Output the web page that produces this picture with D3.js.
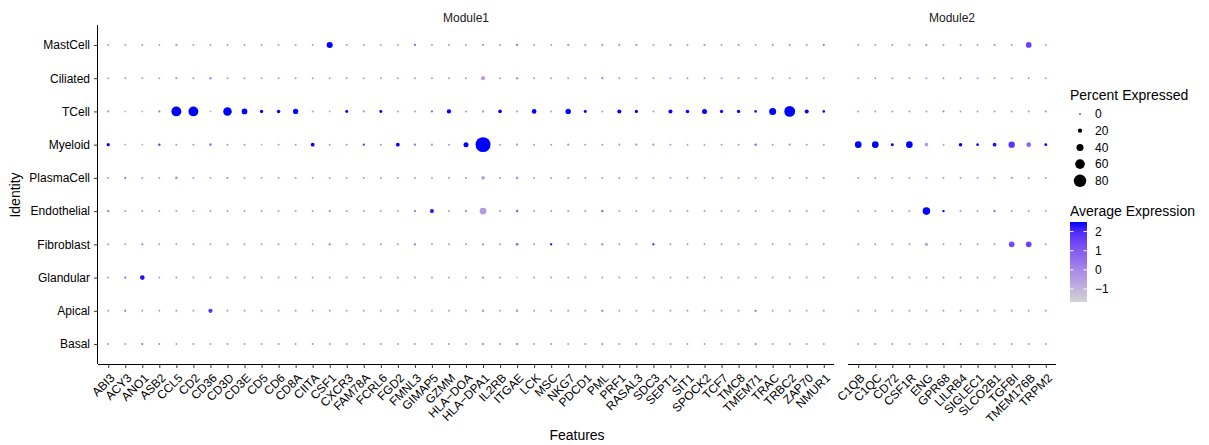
<!DOCTYPE html>
<html>
<head>
<meta charset="utf-8">
<script src="https://cdn.jsdelivr.net/npm/d3@7"></script>
<style>
  body { margin: 0; background: #fff; }
  text { font-family: "Liberation Sans", Arial, sans-serif; }
</style>
</head>
<body>
<svg width="1209" height="445"></svg>
<script>
// features, split by facet
const module1Genes = ["ABI3","ACY3","ANO1","ASB2","CCL5","CD2","CD36","CD3D","CD3E","CD5",
  "CD6","CD8A","CIITA","CSF1","CXCR3","FAM78A","FCRL6","FGD2","FMNL3","GIMAP5",
  "GZMM","HLA\u2212DOA","HLA\u2212DPA1","IL2RB","ITGAE","LCK","MSC","NKG7","PDCD1","PML",
  "PRF1","RASAL3","SDC3","SEPT1","SIT1","SPOCK2","TCF7","TMC8","TMEM71","TRAC",
  "TRBC2","ZAP70","NMUR1"];
const module2Genes = ["C1QB","C1QC","CD72","CSF1R","ENG","GPR68","LILRB4","SIGLEC1","SLCO2B1","TGFBI","TMEM176B","TRPM2"];

const identities = ["MastCell","Ciliated","TCell","Myeloid","PlasmaCell","Endothelial","Fibroblast","Glandular","Apical","Basal"];

// percent expressed, one value per gene (module1 then module2)
const pctMastCell = [3,3,3,3,5,3,3,3,3,3, 3,3,3,33,3,3,3,3,4,3, 3,3,5,3,5,3,3,5,3,4, 4,5,3,5,3,4,3,4,3,4, 4,3,4,
  3,3,3,3,5,3,3,3,5,3,30,3];
const pctCiliated = [3,3,3,3,5,3,6,3,3,3, 3,3,3,3,3,3,3,3,3,3, 3,3,20,3,7,3,3,3,3,4, 3,3,3,3,3,3,3,3,3,3, 3,3,3,
  3,3,3,3,3,3,3,3,3,3,3,3];
const pctTCell = [4,2,2,5,61,61,2,51,30,13, 14,27,3,2,10,4,10,3,3,5, 20,3,6,15,3,22,3,28,10,3, 18,12,3,18,14,25,12,13,8,40, 68,18,8,
  3,3,3,3,3,4,3,3,3,3,3,4];
const pctMyeloid = [12,2,2,6,3,3,9,3,3,2, 3,3,16,3,3,6,3,16,5,4, 3,25,98,3,5,3,3,5,3,3, 4,5,5,3,3,3,3,3,6,3, 5,3,3,
  37,37,10,37,15,3,14,8,16,35,22,9];
const pctPlasmaCell = [3,4,3,3,8,3,3,5,3,3, 3,3,3,3,3,3,3,3,3,3, 3,3,15,3,8,3,3,3,3,3, 3,3,3,3,3,3,3,3,3,3, 3,3,3,
  3,3,3,3,3,3,3,3,4,4,3,3];
const pctEndothelial = [5,3,3,3,3,3,3,3,3,3, 3,3,3,5,3,3,3,3,5,18, 3,5,38,3,7,3,3,3,3,6, 3,3,3,3,3,3,3,3,3,3, 3,3,3,
  3,3,3,3,44,6,3,3,6,3,3,3];
const pctFibroblast = [3,3,4,3,3,3,3,3,3,3, 3,3,3,5,3,3,3,3,5,3, 3,3,6,3,9,3,5,3,3,5, 3,3,5,3,3,3,3,3,3,3, 3,3,3,
  3,3,3,3,12,3,3,3,3,30,30,3];
const pctGlandular = [3,4,22,3,3,3,3,3,3,3, 3,3,3,3,3,3,3,3,3,3, 3,3,6,3,3,3,3,3,3,3, 3,3,3,3,3,3,3,3,3,3, 3,3,3,
  3,3,3,3,3,3,3,3,3,3,3,3];
const pctApical = [3,4,3,3,3,3,20,3,3,3, 3,3,3,3,3,3,3,3,3,3, 3,3,6,3,6,3,3,3,3,5, 3,3,3,3,3,3,3,3,4,3, 3,3,3,
  3,3,3,3,3,3,3,3,3,3,3,3];
const pctBasal = [3,3,4,3,3,3,3,3,3,3, 3,3,3,3,3,3,3,3,3,3, 3,3,6,4,5,3,3,3,3,4, 3,3,3,3,3,3,3,3,4,3, 3,3,3,
  3,3,3,3,3,3,3,3,3,3,3,3];

// average expression (scaled), same order
const avgMastCell = [-0.3,-0.4,-0.4,-0.4,-0.2,-0.3,-0.4,-0.3,-0.3,-0.3, -0.3,-0.3,-0.3,2.5,-0.3,-0.3,-0.4,-0.3,1.0,-0.3,
  -0.3,-0.4,-0.3,-0.3,0.5,-0.3,-0.4,-0.2,-0.3,-0.2, -0.2,-0.2,-0.4,-0.2,-0.3,-0.2,-0.3,-0.2,-0.4,-0.2, -0.2,-0.3,0.6,
  -0.3,-0.3,-0.2,-0.3,-0.2,-0.3,-0.3,-0.3,-0.2,-0.3,1.5,-0.3];
const avgCiliated = [-0.3,-0.4,-0.4,-0.4,-0.2,-0.3,-0.1,-0.3,-0.3,-0.3, -0.3,-0.3,-0.3,-0.3,-0.3,-0.3,-0.4,-0.3,-0.3,-0.3,
  -0.3,-0.4,-0.6,-0.3,-0.5,-0.3,-0.3,-0.3,-0.3,0.3, -0.3,-0.3,-0.3,-0.3,-0.3,-0.3,-0.3,-0.3,-0.3,-0.3, -0.3,-0.3,-0.3,
  -0.3,-0.3,-0.2,-0.3,-0.3,-0.3,-0.3,-0.3,-0.3,-0.3,-0.3,-0.3];
const avgTCell = [-0.1,-0.7,-0.7,0.3,2.5,2.5,-0.7,2.5,2.5,2.5, 2.5,2.5,-0.3,-0.5,2.5,-0.1,2.5,-0.4,-0.3,0.8,
  2.5,-0.2,-0.4,2.5,-0.3,2.5,-0.4,2.5,2.5,-0.3, 2.5,2.5,-0.3,2.5,2.5,2.5,2.5,2.5,2.4,2.5, 2.5,2.5,2.4,
  -0.3,-0.3,-0.3,-0.3,-0.3,-0.1,-0.3,-0.3,-0.3,-0.3,-0.3,-0.1];
const avgMyeloid = [2.5,-0.5,-0.5,1.8,-0.2,-0.2,0.2,-0.3,-0.3,-0.5, -0.3,-0.3,2.5,-0.3,-0.3,1.6,-0.3,2.5,0.6,-0.1,
  -0.3,2.5,2.5,-0.3,-0.2,-0.3,-0.3,-0.2,-0.3,-0.3, -0.2,-0.1,-0.1,-0.3,-0.3,-0.3,-0.3,-0.3,1.0,-0.3, -0.2,-0.3,-0.3,
  2.5,2.5,2.5,2.5,-0.4,-0.3,2.5,2.5,2.4,1.8,0.8,2.5];
const avgPlasmaCell = [-0.3,0.6,-0.3,-0.3,-0.2,-0.3,-0.3,-0.1,-0.3,-0.3, -0.3,-0.3,-0.3,-0.3,-0.3,-0.3,-0.3,-0.3,-0.3,-0.3,
  -0.3,-0.3,-0.5,-0.3,-0.4,-0.3,-0.3,-0.3,-0.3,-0.3, -0.3,-0.3,-0.3,-0.3,-0.3,-0.3,-0.3,-0.3,-0.3,-0.3, -0.3,-0.3,-0.3,
  -0.3,-0.3,-0.3,-0.3,-0.3,-0.3,-0.3,-0.3,-0.2,-0.2,-0.3,-0.3];
const avgEndothelial = [0.6,-0.3,-0.3,-0.3,-0.3,-0.3,-0.3,-0.3,-0.3,-0.3, -0.3,-0.3,-0.3,-0.1,-0.3,-0.3,-0.3,-0.3,0.6,2.3,
  -0.3,0.2,-0.4,-0.3,0.8,-0.3,-0.3,-0.3,-0.3,1.0, -0.3,-0.3,-0.3,-0.3,-0.3,-0.3,-0.3,-0.3,-0.3,-0.3, -0.3,-0.3,-0.3,
  -0.3,-0.3,-0.3,-0.3,2.5,2.5,-0.3,-0.3,0.5,-0.3,-0.3,-0.3];
const avgFibroblast = [-0.3,-0.3,0.5,-0.3,-0.3,-0.3,-0.3,-0.3,-0.3,-0.3, -0.3,-0.3,-0.3,0.5,-0.3,-0.3,-0.3,-0.3,0.6,-0.3,
  -0.3,-0.3,-0.3,-0.3,0.5,-0.3,2.5,-0.3,-0.3,0.5, -0.3,-0.3,2.3,-0.3,-0.3,-0.3,-0.3,-0.3,-0.3,-0.3, -0.3,-0.3,-0.3,
  -0.3,-0.3,-0.3,-0.3,-0.5,-0.3,-0.3,-0.3,-0.3,1.4,1.5,-0.3];
const avgGlandular = [-0.3,0.8,2.4,-0.3,-0.3,-0.3,-0.3,-0.3,-0.3,-0.3, -0.3,-0.3,-0.3,-0.3,-0.3,-0.3,-0.3,-0.3,-0.3,-0.3,
  -0.3,-0.3,-0.3,-0.3,-1.6,-0.3,-0.3,-0.3,-0.3,-0.3, -0.3,-0.3,-0.3,-0.3,-0.3,-0.3,-0.3,-0.3,-0.3,-0.3, -0.3,-0.3,-0.3,
  -0.3,-0.3,-0.3,-0.3,-0.3,-0.3,-0.3,-0.3,-0.3,-0.3,-0.3,-0.3];
const avgApical = [-0.3,0.5,-0.3,-0.3,-0.3,-0.3,1.8,-0.3,-0.3,-0.3, -0.3,-0.3,-0.3,-0.3,-0.3,-0.3,-0.3,-0.3,-0.3,-0.3,
  -0.3,-0.3,-0.3,-0.3,-0.2,-0.3,-0.3,-0.3,-0.3,0.5, -0.3,-0.3,-0.3,-0.3,-0.3,-0.3,-0.3,-0.3,0.6,-0.3, -0.3,-0.3,-0.3,
  -0.3,-0.3,-0.3,-0.3,-0.3,-0.3,-0.3,-0.3,-0.3,-0.3,-0.3,-0.3];
const avgBasal = [-0.3,-0.3,0.6,-0.3,-0.3,-0.3,-0.3,-0.3,-0.3,-0.3, -0.3,-0.3,-0.3,-0.3,-0.3,-0.3,-0.3,-0.3,-0.3,-0.3,
  -0.3,-0.3,-0.3,-0.2,0.4,-0.3,-0.3,-0.3,-0.3,0.2, -0.3,-0.3,-0.3,-0.3,-0.3,-0.3,-0.3,-0.3,0.2,-0.3, -0.3,-0.3,-0.3,
  -0.3,-0.3,-0.3,-0.3,-0.3,-0.3,-0.3,-0.3,-0.3,-0.3,-0.3,-0.3];

const sizeBreaks = [0, 20, 40, 60, 80];
const colorBreaks = [2, 1, 0, -1];

const pctRows = [pctMastCell, pctCiliated, pctTCell, pctMyeloid, pctPlasmaCell, pctEndothelial, pctFibroblast, pctGlandular, pctApical, pctBasal];
const avgRows = [avgMastCell, avgCiliated, avgTCell, avgMyeloid, avgPlasmaCell, avgEndothelial, avgFibroblast, avgGlandular, avgApical, avgBasal];

const svg = d3.select("svg");
svg.append("rect").attr("width", 1209).attr("height", 445).attr("fill", "#fff");

const plotTop = 25, plotBottom = 364;
const panels = [
  {name: "Module1", genes: module1Genes, x0: 98, x1: 834, offset: 0},
  {name: "Module2", genes: module2Genes, x0: 848, x1: 1056, offset: module1Genes.length}
];

const y = d3.scalePoint().domain(identities).range([plotTop, plotBottom]).padding(0.6);
const r = d3.scaleLinear().domain([0, 100]).range([0.8, 7.6]);
const color = d3.scaleLinear().domain([-1.68, 2.5]).range(["lightgrey", "blue"])
  .interpolate(d3.interpolateLab).clamp(true);

panels.forEach(p => {
  const x = d3.scalePoint().domain(p.genes).range([p.x0, p.x1]).padding(0.6);
  const cells = [];
  identities.forEach((id, i) => {
    p.genes.forEach((g, j) => {
      cells.push({id: id, gene: g, pct: pctRows[i][p.offset + j], avg: avgRows[i][p.offset + j]});
    });
  });

  svg.append("g").selectAll("circle")
    .data(cells)
    .join("circle")
    .attr("cx", d => x(d.gene))
    .attr("cy", d => y(d.id))
    .attr("r", d => r(d.pct))
    .attr("fill", d => color(d.avg));

  // x axis
  const xa = svg.append("g").attr("transform", `translate(0,${plotBottom})`)
    .call(d3.axisBottom(x).tickSize(4).tickSizeOuter(0));
  xa.select(".domain").attr("stroke", "#000").attr("stroke-width", 1).attr("d", `M${p.x0},0.5H${p.x1}`);
  xa.selectAll(".tick line").attr("stroke", "#333");
  xa.selectAll(".tick text")
    .attr("font-size", 12).attr("fill", "#000")
    .attr("text-anchor", "end")
    .attr("y", 0).attr("dy", 0)
    .attr("transform", "translate(1,9) rotate(-45) translate(0,8)");

  // facet label
  svg.append("text").attr("x", (p.x0 + p.x1) / 2).attr("y", 22)
    .attr("text-anchor", "middle").attr("font-size", 12).attr("fill", "#1a1a1a").text(p.name);
});

// y axis on first panel only
const ya = svg.append("g").attr("transform", "translate(98,0)")
  .call(d3.axisLeft(y).tickSize(4).tickSizeOuter(0));
ya.select(".domain").attr("stroke", "#000").attr("d", `M-0.5,${plotTop}V${plotBottom}`);
ya.selectAll(".tick line").attr("stroke", "#333");
ya.selectAll(".tick text").attr("font-size", 12).attr("fill", "#000").attr("x", -8);

// axis titles
svg.append("text").attr("x", 577).attr("y", 440).attr("text-anchor", "middle")
  .attr("font-size", 14).text("Features");
svg.append("text").attr("transform", "translate(20,195) rotate(-90)").attr("text-anchor", "middle")
  .attr("font-size", 14).text("Identity");

// size legend
const lg = svg.append("g");
lg.append("text").attr("x", 1070).attr("y", 100).attr("font-size", 14).text("Percent Expressed");
sizeBreaks.forEach((b, i) => {
  const ky = 114 + i * 16.7;
  lg.append("circle").attr("cx", 1080).attr("cy", ky).attr("r", r(b)).attr("fill", "#000");
  lg.append("text").attr("x", 1095).attr("y", ky).attr("dy", "0.35em").attr("font-size", 12).text(b);
});

// colour legend
lg.append("text").attr("x", 1070).attr("y", 216).attr("font-size", 14).text("Average Expression");
const barTop = 222, barBot = 302;
const barScale = d3.scaleLinear().domain([-1.68, 2.5]).range([barBot, barTop]);
const defs = svg.append("defs");
const grad = defs.append("linearGradient").attr("id", "avgGrad")
  .attr("x1", 0).attr("y1", 1).attr("x2", 0).attr("y2", 0);
d3.range(0, 1.0001, 0.1).forEach(t => {
  grad.append("stop").attr("offset", t).attr("stop-color", color(-1.68 + t * 4.18));
});
lg.append("rect").attr("x", 1070).attr("y", barTop).attr("width", 17).attr("height", barBot - barTop)
  .attr("fill", "url(#avgGrad)");
colorBreaks.forEach(b => {
  const yy = barScale(b);
  lg.append("line").attr("x1", 1070).attr("x2", 1073.5).attr("y1", yy).attr("y2", yy).attr("stroke", "#fff");
  lg.append("line").attr("x1", 1083.5).attr("x2", 1087).attr("y1", yy).attr("y2", yy).attr("stroke", "#fff");
  lg.append("text").attr("x", 1095).attr("y", yy).attr("dy", "0.35em").attr("font-size", 12)
    .text(b < 0 ? "\u2212" + Math.abs(b) : b);
});
</script>
</body>
</html>
